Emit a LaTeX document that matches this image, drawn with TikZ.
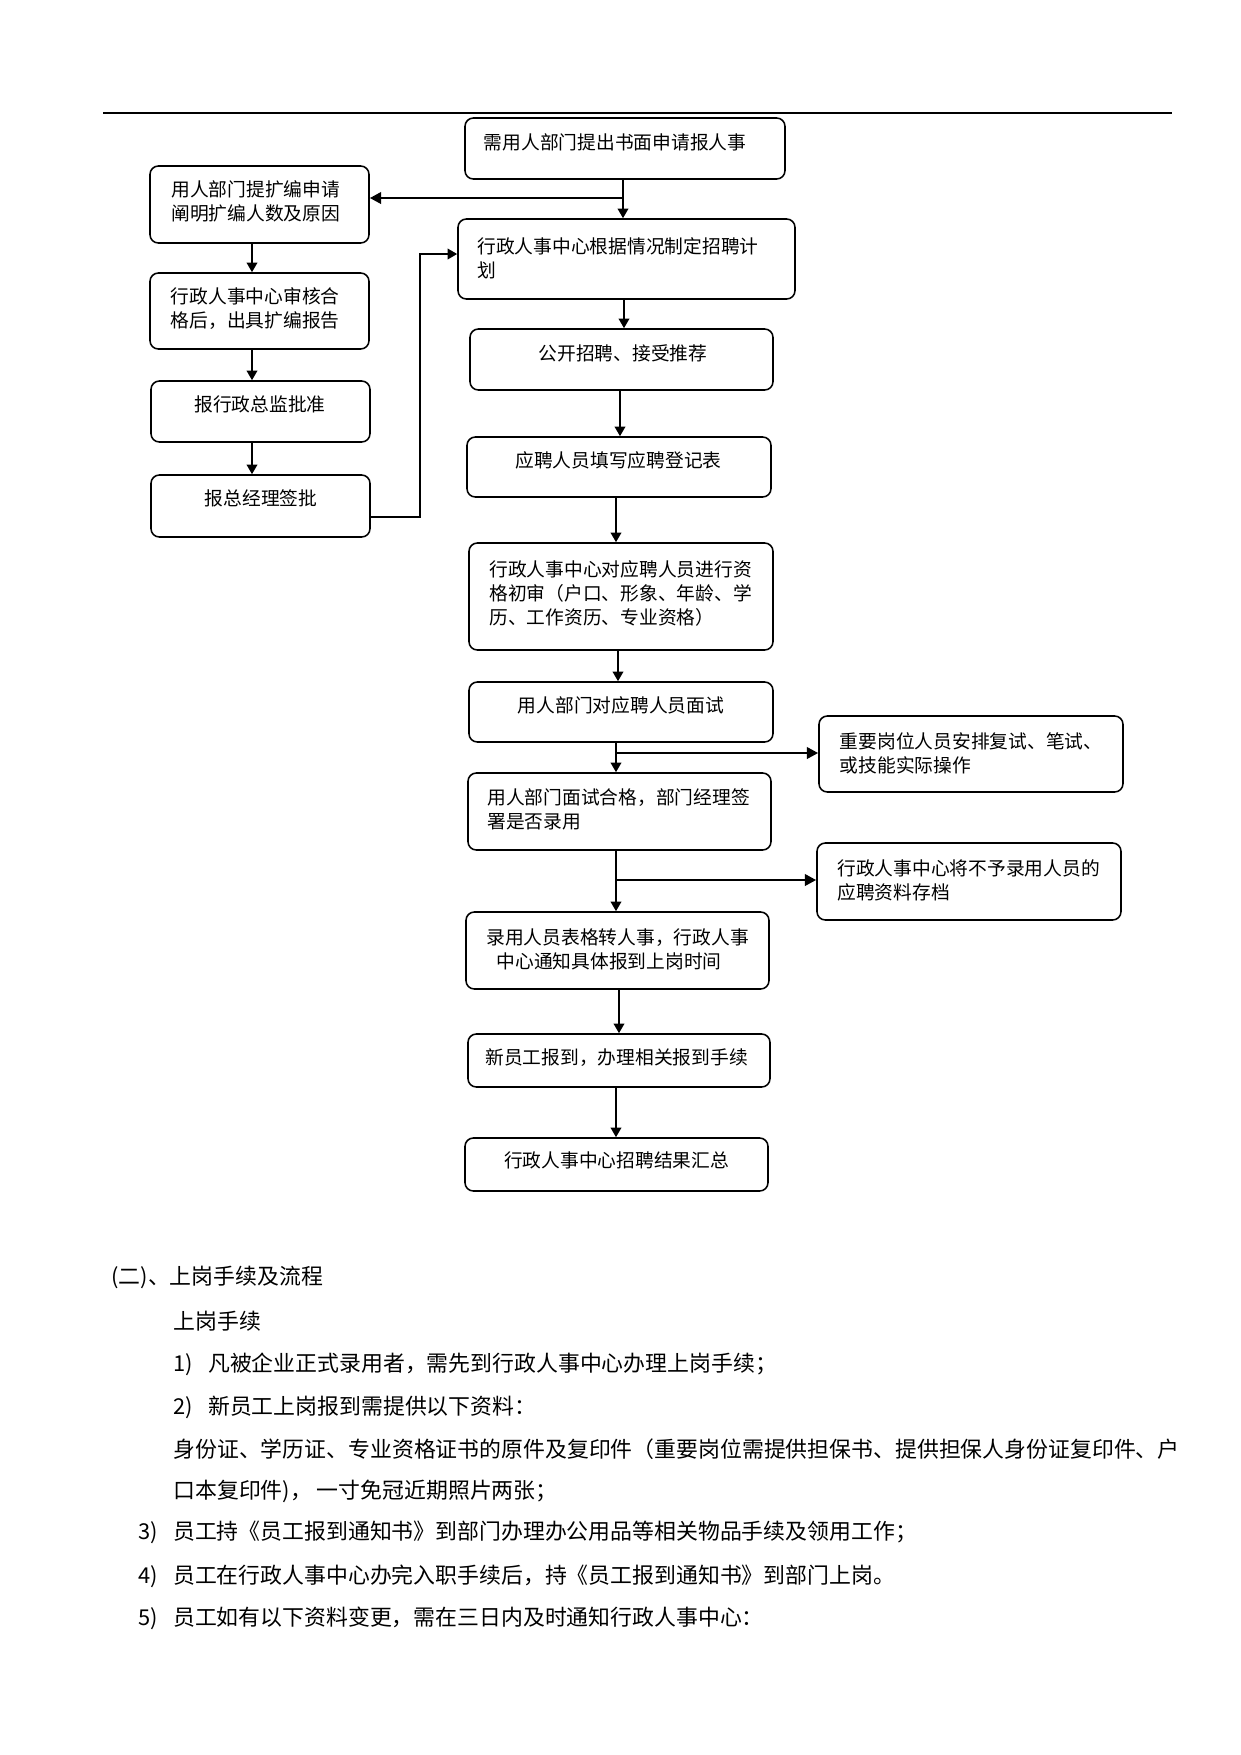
\documentclass[tikz,border=0pt]{standalone}
\usepackage{fontspec}
\setmainfont{Noto Sans CJK SC}
\usetikzlibrary{arrows.meta}
\newlength\pxu
\setlength\pxu{0.48pt}
\begin{document}
\begin{tikzpicture}[x=0.48pt,y=-0.48pt,
  box/.style={draw, line width=0.75pt, rounded corners=4pt, inner sep=0pt},
  btxt/.style={inner sep=0pt, font=\fontsize{9pt}{11.5pt}\selectfont, align=left},
  ptxt/.style={inner sep=0pt, anchor=west, font=\fontsize{10.5pt}{12.6pt}\selectfont},
  arr/.style={line width=1pt, -{Triangle[length=4.6pt,width=5pt]}},
  arrb/.style={line width=1.3pt, -{Triangle[length=5.5pt,width=5.5pt]}},
]
\path[fill=white, use as bounding box] (0,0) rectangle (1241,1755);

% top rule
\draw[line width=1.2pt] (103,113) -- (1172,113);

% boxes
\node[box, minimum width=320\pxu, minimum height=61\pxu] (A) at (625,148.5) {};
\node[box, minimum width=219\pxu, minimum height=77\pxu] (L1) at (259.5,204.5) {};
\node[box, minimum width=337\pxu, minimum height=80\pxu] (B) at (626.5,259) {};
\node[box, minimum width=219\pxu, minimum height=76\pxu] (L2) at (259.5,311) {};
\node[box, minimum width=303\pxu, minimum height=61\pxu] (C) at (621.5,359.5) {};
\node[box, minimum width=219\pxu, minimum height=61\pxu] (L3) at (260.5,411.5) {};
\node[box, minimum width=304\pxu, minimum height=60\pxu] (D) at (619,467) {};
\node[box, minimum width=219\pxu, minimum height=62\pxu] (L4) at (260.5,506) {};
\node[box, minimum width=304\pxu, minimum height=107\pxu] (E) at (621,596.5) {};
\node[box, minimum width=304\pxu, minimum height=60\pxu] (F) at (621,712) {};
\node[box, minimum width=304\pxu, minimum height=76\pxu] (R1) at (971,754) {};
\node[box, minimum width=303\pxu, minimum height=77\pxu] (G) at (619.5,811.5) {};
\node[box, minimum width=304\pxu, minimum height=77\pxu] (R2) at (969,881.5) {};
\node[box, minimum width=303\pxu, minimum height=77\pxu] (H) at (617.5,950.5) {};
\node[box, minimum width=302\pxu, minimum height=53\pxu] (I) at (619,1060.5) {};
\node[box, minimum width=303\pxu, minimum height=53\pxu] (J) at (616.5,1164.5) {};

% box texts
\node[btxt] (At) at (615,142) {需用人部门提出书面申请报人事};
\node[btxt, anchor=west] (L1t) at (171,201.5) {用人部门提扩编申请\\阐明扩编人数及原因};
\node[btxt, anchor=west] (Bt) at (477,258.5) {行政人事中心根据情况制定招聘计\\划};
\node[btxt, anchor=west] (L2t) at (170.5,309) {行政人事中心审核合\\格后，出具扩编报告};
\node[btxt] (Ct) at (623,353) {公开招聘、接受推荐};
\node[btxt] (L3t) at (260,404) {报行政总监批准};
\node[btxt] (Dt) at (618.5,460) {应聘人员填写应聘登记表};
\node[btxt] (L4t) at (261,498) {报总经理签批};
\node[btxt, anchor=west] (Et) at (489,593) {行政人事中心对应聘人员进行资\\格初审（户口、形象、年龄、学\\历、工作资历、专业资格）};
\node[btxt] (Ft) at (621,705) {用人部门对应聘人员面试};
\node[btxt, anchor=west] (R1t) at (839.5,753) {重要岗位人员安排复试、笔试、\\或技能实际操作};
\node[btxt, anchor=west] (Gt) at (487,809.5) {用人部门面试合格，部门经理签\\署是否录用};
\node[btxt, anchor=west] (R2t) at (837,880) {行政人事中心将不予录用人员的\\应聘资料存档};
\node[btxt, anchor=west] (Ht) at (486,949) {录用人员表格转人事，行政人事\\\hspace{0.55em}中心通知具体报到上岗时间};
\node[btxt] (It) at (616.5,1058) {新员工报到，办理相关报到手续};
\node[btxt] (Jt) at (616.5,1160) {行政人事中心招聘结果汇总};

% helper coordinates
\coordinate (jA) at (623,198);
\coordinate (xl) at (252,0);
\coordinate (k1) at (420,517);
\coordinate (k2) at (420,254);
\coordinate (x624) at (624,0);
\coordinate (x620) at (620,0);
\coordinate (x616) at (616,0);
\coordinate (x618) at (618,0);
\coordinate (x619) at (619,0);
\coordinate (jF) at (616,753);
\coordinate (jG) at (616,880);

% connectors
\draw[arr] (A.south -| jA) -- (B.north -| jA);
\draw[arrb] (jA) -- (L1.east |- jA);
\draw[arr] (L1.south -| xl) -- (L2.north -| xl);
\draw[arr] (L2.south -| xl) -- (L3.north -| xl);
\draw[arr] (L3.south -| xl) -- (L4.north -| xl);
\draw[arr] (L4.east |- k1) -- (k1) -- (k2) -- (B.west |- k2);
\draw[arr] (B.south -| x624) -- (C.north -| x624);
\draw[arr] (C.south -| x620) -- (D.north -| x620);
\draw[arr] (D.south -| x616) -- (E.north -| x616);
\draw[arr] (E.south -| x618) -- (F.north -| x618);
\draw[arr] (F.south -| jF) -- (G.north -| jF);
\draw[arrb] (jF) -- (R1.west |- jF);
\draw[arr] (G.south -| jG) -- (H.north -| jG);
\draw[arrb] (jG) -- (R2.west |- jG);
\draw[arr] (H.south -| x619) -- (I.north -| x619);
\draw[arr] (I.south -| x616) -- (J.north -| x616);

% body text
\node[ptxt] (p0) at (111,1277) {(二)、上岗手续及流程};
\node[ptxt] (p1) at (173,1321) {上岗手续};
\node[ptxt] (p2) at (173,1364) {1)\hspace{0.7em}凡被企业正式录用者，需先到行政人事中心办理上岗手续；};
\node[ptxt] (p3) at (173,1407) {2)\hspace{0.7em}新员工上岗报到需提供以下资料：};
\node[ptxt] (p4) at (173,1449) {身份证、学历证、专业资格证书的原件及复印件（重要岗位需提供担保书、提供担保人身份证复印件、户};
\node[ptxt] (p5) at (173,1491) {口本复印件)，\ 一寸免冠近期照片两张；};
\node[ptxt] (p6) at (138,1532) {3)\hspace{0.7em}员工持《员工报到通知书》到部门办理办公用品等相关物品手续及领用工作；};
\node[ptxt] (p7) at (138,1576) {4)\hspace{0.7em}员工在行政人事中心办完入职手续后，持《员工报到通知书》到部门上岗。};
\node[ptxt] (p8) at (138,1618) {5)\hspace{0.7em}员工如有以下资料变更，需在三日内及时通知行政人事中心：};
\end{tikzpicture}
\end{document}
